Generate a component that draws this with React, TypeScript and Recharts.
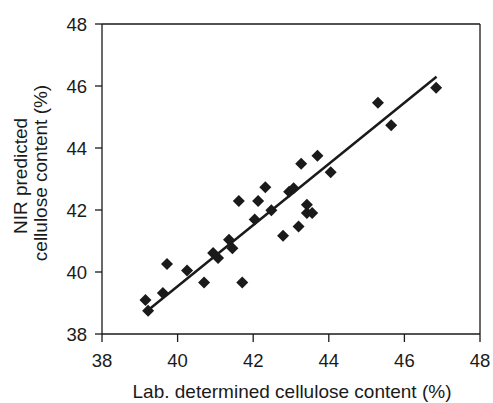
import { ScatterChart, Scatter, XAxis, YAxis, ReferenceLine, Label } from 'recharts'

const labValues = [
  39.15, 39.22, 39.61, 39.72, 40.25, 40.7, 40.94, 41.07, 41.36, 41.45,
  41.62, 41.71, 42.04, 42.13, 42.32, 42.48, 42.79, 42.95, 43.07, 43.2,
  43.27, 43.42, 43.42, 43.56, 43.7, 44.05, 45.3, 45.65, 46.84,
]
const nirValues = [
  39.1, 38.75, 39.32, 40.26, 40.05, 39.66, 40.61, 40.45, 41.04, 40.77,
  42.29, 39.66, 41.69, 42.29, 42.73, 41.99, 41.17, 42.59, 42.7, 41.47,
  43.49, 42.17, 41.9, 41.9, 43.75, 43.22, 45.46, 44.73, 45.94,
]
const fitX = [39.2, 46.85]
const fitY = [38.75, 46.3]
const ticks = [38, 40, 42, 44, 46, 48]

const points = labValues.map((x, i) => ({ x, y: nirValues[i] }))
const fitLine = fitX.map((x, i) => ({ x, y: fitY[i] }))

const ink = '#1a1a1a'
const font = '"Liberation Sans", Arial, sans-serif'

const Diamond = (props: any) => {
  const { cx, cy } = props
  const r = 6
  return (
    <polygon
      points={`${cx},${cy - r} ${cx + r},${cy} ${cx},${cy + r} ${cx - r},${cy}`}
      fill={ink}
    />
  )
}

const yLabel = () => (
  <g fontFamily={font} fontSize={19} fill={ink}>
    <text x={27} y={176} textAnchor="middle" transform="rotate(-90 27 176)">
      NIR predicted
    </text>
    <text x={46.5} y={173} textAnchor="middle" transform="rotate(-90 46.5 173)">
      cellulose content (%)
    </text>
  </g>
)

const xLabel = () => (
  <text x={292} y={398} textAnchor="middle" fontFamily={font} fontSize={19} fill={ink}>
    Lab. determined cellulose content (%)
  </text>
)

export default function App() {
  return (
    <div style={{ position: 'absolute', left: 0, top: 0, background: '#fff' }}>
      <ScatterChart width={493} height={403} margin={{ top: 24, right: 13, left: 0, bottom: 0 }}>
        <XAxis
          type="number"
          dataKey="x"
          domain={[38, 48]}
          ticks={ticks}
          height={69}
          tickSize={8}
          tickMargin={12}
          stroke={ink}
          strokeWidth={1.3}
          tick={{ fontSize: 18.5, fill: ink, fontFamily: font }}
          allowDataOverflow
        >
          <Label content={xLabel} />
        </XAxis>
        <YAxis
          type="number"
          dataKey="y"
          domain={[38, 48]}
          ticks={ticks}
          width={102}
          tickSize={7}
          tickMargin={8}
          stroke={ink}
          strokeWidth={1.3}
          tick={{ fontSize: 18.5, fill: ink, fontFamily: font }}
          allowDataOverflow
        >
          <Label content={yLabel} />
        </YAxis>
        <ReferenceLine y={48} stroke={ink} strokeWidth={1.3} />
        <ReferenceLine x={48} stroke={ink} strokeWidth={1.3} />
        <Scatter data={points} shape={Diamond} isAnimationActive={false} />
        <Scatter
          data={fitLine}
          line={{ stroke: ink, strokeWidth: 2.5 }}
          lineType="joint"
          shape={() => null}
          isAnimationActive={false}
        />
      </ScatterChart>
    </div>
  )
}
